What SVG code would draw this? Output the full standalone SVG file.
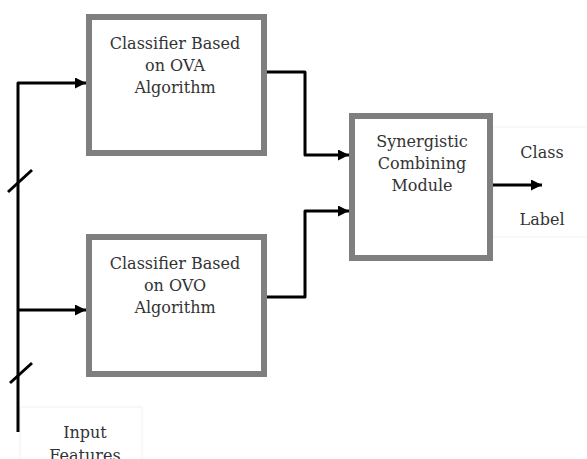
<svg xmlns="http://www.w3.org/2000/svg" width="587" height="459" viewBox="0 0 587 459">
<style>
.box{fill:#fff;stroke:#7f7f7f;stroke-width:6}
.t{font-family:'DejaVu Serif',serif;font-size:16px;fill:#333;text-anchor:middle}
.w{fill:none;stroke:#000;stroke-width:3;stroke-linejoin:round}
.faint{fill:none;stroke:#f2f2f2;stroke-width:1}
</style>
<defs>
<marker id="ah" viewBox="0 0 10 10" refX="10" refY="5" markerWidth="11" markerHeight="11" markerUnits="userSpaceOnUse" orient="auto">
<path d="M0,0 L10,5 L0,10 z" fill="#000"/>
</marker>
</defs>
<rect width="587" height="459" fill="#fff"/>
<g id="class-label">
<rect class="faint" x="493" y="127" width="100" height="110"/>
<text class="t" x="542" y="158">Class</text>
<text class="t" x="542" y="225">Label</text>
</g>
<g id="input-features">
<rect class="faint" x="20" y="407" width="122" height="60"/>
<text class="t" x="85" y="438">Input</text>
<text class="t" x="85" y="461">Features</text>
</g>
<g id="ova">
<rect class="box" x="89" y="17" width="175" height="136"/>
<text class="t" x="175" y="49">Classifier Based</text>
<text class="t" x="175" y="71">on OVA</text>
<text class="t" x="175" y="93">Algorithm</text>
</g>
<g id="ovo">
<rect class="box" x="89" y="237" width="175" height="137"/>
<text class="t" x="175" y="269">Classifier Based</text>
<text class="t" x="175" y="291">on OVO</text>
<text class="t" x="175" y="313">Algorithm</text>
</g>
<g id="scm">
<rect class="box" x="352" y="116" width="138" height="142"/>
<text class="t" x="422" y="147">Synergistic</text>
<text class="t" x="422" y="169">Combining</text>
<text class="t" x="422" y="191">Module</text>
</g>
<g id="connectors">
<path class="w" d="M18,432 L18,83 L86,83" marker-end="url(#ah)"/>
<path class="w" d="M18,310 L86,310" marker-end="url(#ah)"/>
<path class="w" d="M8,192 L32,170"/>
<path class="w" d="M10,383 L32,363"/>
<path class="w" d="M267,72 L305,72 L305,155 L349,155" marker-end="url(#ah)"/>
<path class="w" d="M267,297 L305,297 L305,211 L349,211" marker-end="url(#ah)"/>
<path class="w" d="M493,185 L542,185" marker-end="url(#ah)"/>
</g>
</svg>
